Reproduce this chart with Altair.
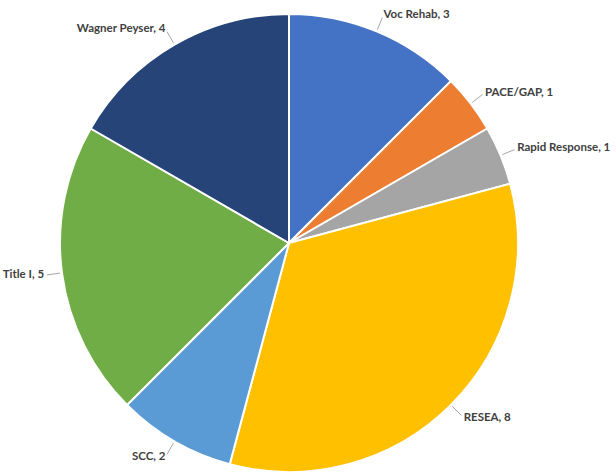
import altair as alt
import pandas as pd

categories = ["Voc Rehab", "PACE/GAP", "Rapid Response", "RESEA", "SCC", "Title I", "Wagner Peyser"]
values = [3, 1, 1, 8, 2, 5, 4]
colors = ["#4472C4", "#ED7D31", "#A5A5A5", "#FFC000", "#5B9BD5", "#70AD47", "#264478"]

total = sum(values)
df = pd.DataFrame({
    "category": categories,
    "value": values,
    "idx": list(range(len(categories))),
    "label": [f"{c}, {v}" for c, v in zip(categories, values)],
})

W, H = 616, 474
CX, CY, R = 289, 243, 229
LR = 247

pie = alt.Chart(df).mark_arc(outerRadius=R, stroke="white", strokeWidth=2).encode(
    theta=alt.Theta("value:Q", stack=True),
    order=alt.Order("idx:Q"),
    x=alt.value(CX),
    y=alt.value(CY),
    color=alt.Color("category:N", scale=alt.Scale(domain=categories, range=colors), legend=None),
)

lab = alt.Chart(df).transform_window(
    cum="sum(value)", sort=[alt.SortField("idx")]
).transform_calculate(
    mid="datum.cum - datum.value / 2",
    side=f"(datum.cum - datum.value / 2) < {total / 2} ? 'right' : 'left'",
    ang=f"(datum.cum - datum.value / 2) / {total} * 2 * PI",
)

text_style = dict(font="Lato", fontSize=11.5, fontWeight="bold", color="#404040",
                  baseline="middle", radius=LR)

enc = dict(
    theta=alt.Theta("mid:Q", stack=None, scale=alt.Scale(domain=[0, total])),
    x=alt.value(CX), y=alt.value(CY), text="label:N",
)

labels_right = lab.transform_filter(alt.datum.side == "right").mark_text(
    align="left", **text_style).encode(**enc)
labels_left = lab.transform_filter(alt.datum.side == "left").mark_text(
    align="right", **text_style).encode(**enc)

xs = alt.Scale(domain=[0, W], range=[0, W])
ys = alt.Scale(domain=[0, H], range=[0, H])
leaders = lab.transform_calculate(
    x1=f"{CX} + {R + 2} * sin(datum.ang)",
    y1=f"{CY} - {R + 2} * cos(datum.ang)",
    x2=f"{CX} + {LR - 3} * sin(datum.ang)",
    y2=f"{CY} - {LR - 3} * cos(datum.ang)",
).mark_rule(color="#A6A6A6", strokeWidth=1).encode(
    x=alt.X("x1:Q", scale=xs, axis=None),
    y=alt.Y("y1:Q", scale=ys, axis=None),
    x2="x2:Q",
    y2="y2:Q",
)

chart = alt.layer(pie, leaders, labels_right, labels_left).properties(
    width=W, height=H, padding=0, autosize=alt.AutoSizeParams(type="none")
).configure_view(stroke=None)

chart.save("out.html", embed_options={"renderer": "svg", "actions": False})
